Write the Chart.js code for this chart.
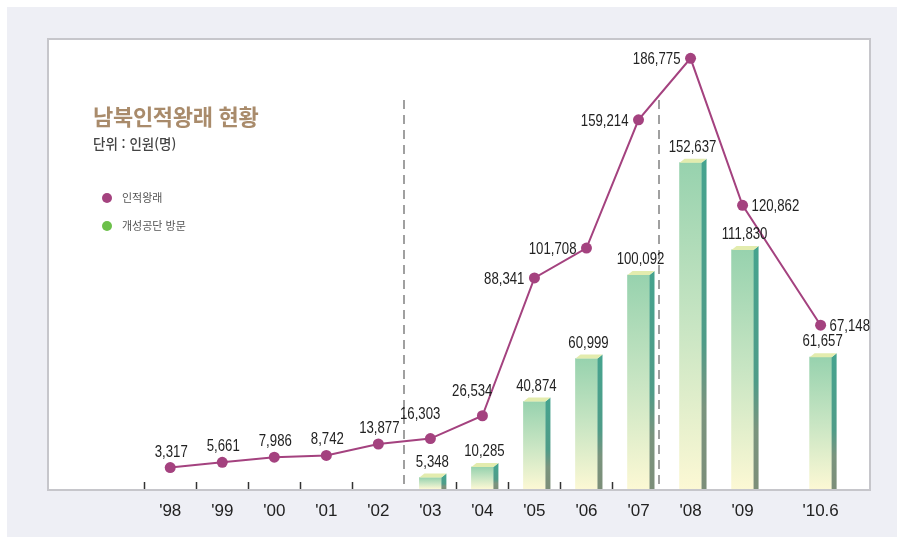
<!DOCTYPE html>
<html lang="ko">
<head>
<meta charset="utf-8">
<script src="https://cdn.jsdelivr.net/npm/chart.js@4/dist/chart.umd.min.js"></script>
<style>
  body { margin: 0; background: #fff; }
  #wrap { position: relative; width: 904px; height: 544px; }
  #chart { position: absolute; left: 0; top: 0; }
  .title { position: absolute; left: 93px; top: 99px; font: bold 22px "Noto Sans CJK KR", sans-serif; color: #a98b6b; letter-spacing: -0.3px; }
  .unit { position: absolute; left: 93px; top: 133px; font: 500 13.5px "Noto Sans CJK KR", sans-serif; color: #444; }
  .legend { position: absolute; left: 102px; font: 11px "Noto Sans CJK KR", sans-serif; color: #555; line-height: 14px; }
  .legend i { display: inline-block; width: 10px; height: 10px; border-radius: 50%; margin-right: 10px; vertical-align: -1px; }
</style>
</head>
<body>
<div id="wrap">
  <canvas id="chart" width="904" height="544"></canvas>
  <div class="title">남북인적왕래 현황</div>
  <div class="unit">단위 : 인원(명)</div>
  <div class="legend" style="top:190px"><i style="background:#a4427f"></i>인적왕래</div>
  <div class="legend" style="top:218px"><i style="background:#6cc04a"></i>개성공단 방문</div>
</div>
<script>
// 연도 (10.6 = 2010년 6월)
const years = [1998, 1999, 2000, 2001, 2002, 2003, 2004, 2005, 2006, 2007, 2008, 2009, 2010.5];
const yearLabels = ["'98", "'99", "'00", "'01", "'02", "'03", "'04", "'05", "'06", "'07", "'08", "'09", "'10.6"];

// 인적왕래 (선)
const exchangeTotal = [3317, 5661, 7986, 8742, 13877, 16303, 26534, 88341, 101708, 159214, 186775, 120862, 67148];

// 개성공단 방문 (막대)
const kaesongYears = [2003, 2004, 2005, 2006, 2007, 2008, 2009, 2010.5];
const kaesongVisits = [5348, 10285, 40874, 60999, 100092, 152637, 111830, 61657];

// 라벨 위치 (스타일)
const lineLabelPos = ['top', 'top', 'top', 'top', 'top', 'topleft', 'topleft', 'left', 'left', 'left', 'left', 'right', 'right'];

const PURPLE = '#a4427f';
const NUM_FONT = '"Liberation Sans", Arial, sans-serif';

function fmt(v) { return v.toLocaleString('en-US'); }

// 좁은 숫자 글꼴 흉내 (가로 압축)
function narrowText(ctx, t, x, y, align) {
    ctx.save();
    ctx.translate(x, y);
    ctx.scale(0.8, 1);
    ctx.textAlign = align;
    ctx.textBaseline = 'alphabetic';
    ctx.fillText(t, 0, 0);
    ctx.restore();
}

// 막대 앞면 그라데이션
function barFill(c) {
    const chart = c.chart;
    if (!chart.chartArea || c.raw == null) return '#b8ddc0';
    const y = chart.scales.y.getPixelForValue(c.raw.y);
    const base = chart.scales.y.getPixelForValue(0);
    const g = chart.ctx.createLinearGradient(0, y, 0, base);
    g.addColorStop(0, '#97d2ae');
    g.addColorStop(0.5, '#c8e5c3');
    g.addColorStop(1, '#fcf8d4');
    return g;
}

// 배경, 패널, 점선, 눈금
const decoPlugin = {
    id: 'deco',
    beforeDraw(chart) {
        const ctx = chart.ctx;
        ctx.save();
        ctx.fillStyle = '#ffffff';
        ctx.fillRect(0, 0, chart.width, chart.height);
        ctx.fillStyle = '#eeeff5';
        ctx.fillRect(7, 7, chart.width - 14, chart.height - 14);
        const a = chart.chartArea;
        ctx.fillStyle = '#ffffff';
        ctx.fillRect(a.left - 1, a.top - 1, a.right - a.left + 2, a.bottom - a.top + 2);
        ctx.strokeStyle = '#c6c6cb';
        ctx.lineWidth = 2;
        ctx.strokeRect(a.left - 1, a.top - 1, a.right - a.left + 2, a.bottom - a.top + 2);
        ctx.restore();
    },
    beforeDatasetsDraw(chart) {
        const ctx = chart.ctx;
        const xs = chart.scales.x;
        const a = chart.chartArea;
        ctx.save();
        // 눈금
        ctx.strokeStyle = '#333';
        ctx.lineWidth = 1.5;
        years.slice(0, 10).forEach((yr, i) => {
            if (i === 5) return;
            const x = Math.round(xs.getPixelForValue(yr - 0.5)) + 0.5;
            ctx.beginPath();
            ctx.moveTo(x, a.bottom - 7);
            ctx.lineTo(x, a.bottom);
            ctx.stroke();
        });
        // 구분 점선
        ctx.strokeStyle = '#a0a0a0';
        ctx.lineWidth = 2;
        ctx.setLineDash([9, 6]);
        [years[4] + 0.5, years[9] + 0.4].forEach(v => {
            const x = Math.round(xs.getPixelForValue(v));
            ctx.beginPath();
            ctx.moveTo(x, 100);
            ctx.lineTo(x, a.bottom);
            ctx.stroke();
        });
        ctx.restore();
    },
    afterDatasetDraw(chart, args) {
        if (args.index !== 0) return;
        const ctx = chart.ctx;
        const meta = args.meta;
        ctx.save();
        meta.data.forEach(bar => {
            const p = bar.getProps(['x', 'y', 'base', 'width'], true);
            const r = p.x + p.width / 2;
            const l = p.x - p.width / 2;
            const d = 5, h = 4;
            // 옆면
            const g = ctx.createLinearGradient(0, p.y, 0, p.base);
            g.addColorStop(0, '#46a38e');
            g.addColorStop(0.55, '#4f9c88');
            g.addColorStop(0.75, '#7a947e');
            g.addColorStop(1, '#7c8e79');
            ctx.fillStyle = g;
            ctx.beginPath();
            ctx.moveTo(r, p.y);
            ctx.lineTo(r + d, p.y - h);
            ctx.lineTo(r + d, p.base);
            ctx.lineTo(r, p.base);
            ctx.closePath();
            ctx.fill();
            // 윗면
            ctx.fillStyle = '#e3ecae';
            ctx.beginPath();
            ctx.moveTo(l, p.y);
            ctx.lineTo(l + d, p.y - h);
            ctx.lineTo(r + d, p.y - h);
            ctx.lineTo(r, p.y);
            ctx.closePath();
            ctx.fill();
        });
        ctx.restore();
    },
    afterDatasetsDraw(chart) {
        const ctx = chart.ctx;
        ctx.save();
        ctx.fillStyle = '#222';
        ctx.font = '16.5px ' + NUM_FONT;
        // 막대 값
        chart.getDatasetMeta(0).data.forEach((bar, i) => {
            narrowText(ctx, fmt(kaesongVisits[i]), bar.x + 2, bar.y - 11, 'center');
        });
        // 선 값
        chart.getDatasetMeta(1).data.forEach((pt, i) => {
            const t = fmt(exchangeTotal[i]);
            const pos = lineLabelPos[i];
            if (pos === 'top') {
                narrowText(ctx, t, pt.x + 1, pt.y - 11, 'center');
            } else if (pos === 'topleft') {
                narrowText(ctx, t, pt.x + 10, pt.y - 20, 'right');
            } else if (pos === 'left') {
                narrowText(ctx, t, pt.x - 10, pt.y + 6, 'right');
            } else {
                narrowText(ctx, t, pt.x + 9, pt.y + 6, 'left');
            }
        });
        ctx.restore();
    }
};

new Chart(document.getElementById('chart').getContext('2d'), {
    type: 'line',
    data: {
        datasets: [
            {
                type: 'bar',
                label: '개성공단 방문',
                data: kaesongYears.map((x, i) => ({ x: x, y: kaesongVisits[i] })),
                backgroundColor: barFill,
                borderWidth: 0,
                barThickness: 22,
                yAxisID: 'y',
                order: 2
            },
            {
                type: 'line',
                label: '인적왕래',
                data: years.map((x, i) => ({ x: x, y: exchangeTotal[i] })),
                borderColor: PURPLE,
                borderWidth: 2,
                pointBackgroundColor: PURPLE,
                pointBorderWidth: 0,
                pointRadius: 5.5,
                tension: 0,
                yAxisID: 'y1',
                order: 1
            }
        ]
    },
    options: {
        responsive: false,
        animation: false,
        layout: { padding: { left: 49, right: 35, top: 40, bottom: 0 } },
        plugins: { legend: { display: false }, tooltip: { enabled: false } },
        scales: {
            x: {
                type: 'linear',
                min: 1995.67,
                max: 2011.43,
                offset: false,
                grid: { display: false },
                border: { display: false },
                afterBuildTicks: axis => { axis.ticks = years.map(v => ({ value: v })); },
                afterFit: axis => { axis.height = 55; },
                ticks: {
                    autoSkip: false,
                    maxRotation: 0,
                    padding: 4,
                    color: '#222',
                    font: { family: NUM_FONT, size: 17 },
                    callback: v => yearLabels[years.indexOf(v)]
                }
            },
            y: { display: false, min: 0, max: 210000 },
            y1: { display: false, min: -6300, max: 195000 }
        }
    },
    plugins: [decoPlugin]
});
</script>
</body>
</html>
